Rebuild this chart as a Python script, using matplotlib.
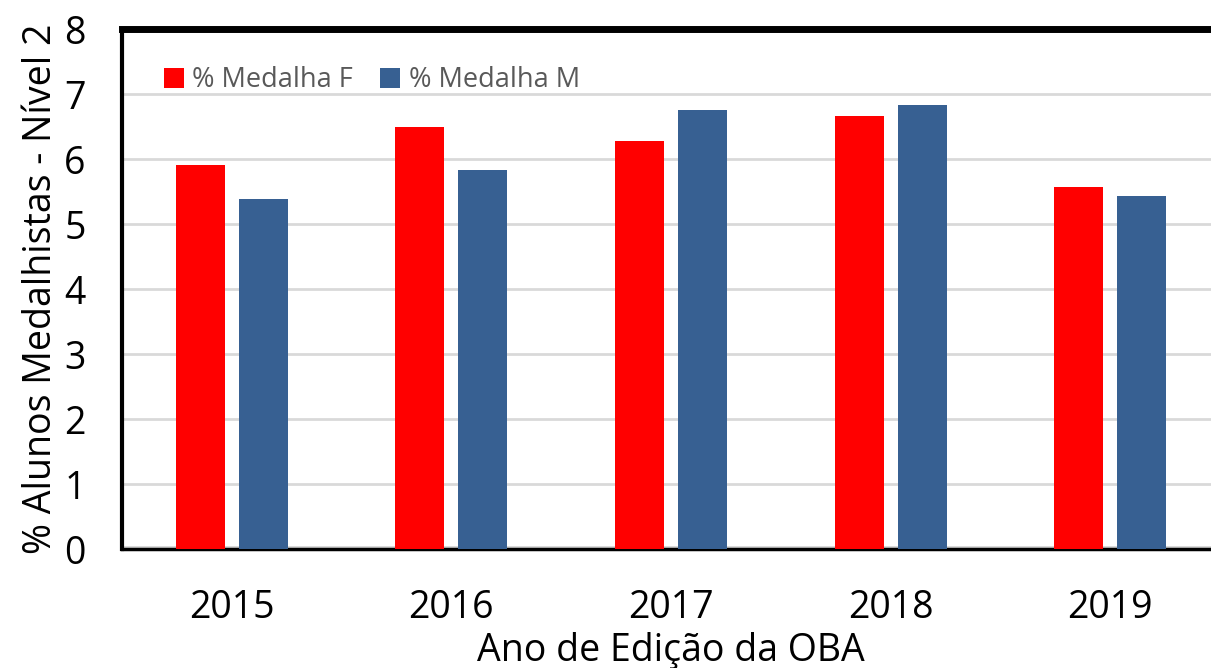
import numpy as np
import matplotlib.pyplot as plt

plt.rcParams['font.family'] = ['Open Sans', 'DejaVu Sans']

# dados
anos = ["2015", "2016", "2017", "2018", "2019"]
medalha_f = [5.91, 6.49, 6.28, 6.66, 5.57]
medalha_m = [5.38, 5.83, 6.75, 6.83, 5.43]

fig = plt.figure(figsize=(12.11, 6.68), dpi=100)
ax = fig.add_axes([0.1007, 0.178, 0.9067, 0.7784])

x = np.arange(len(anos))
w = 0.223
ax.bar(x - 0.1435, medalha_f, w, color="#ff0000", label="% Medalha F", zorder=3)
ax.bar(x + 0.1435, medalha_m, w, color="#376092", label="% Medalha M", zorder=3)

ax.set_xlim(-0.5, 4.5)
ax.set_ylim(0, 8)
ax.set_xticks(x)
ax.set_xticklabels(anos)
ax.set_yticks(range(0, 9))
ax.tick_params(axis='both', length=0, labelsize=27)
ax.tick_params(axis='x', pad=29)
ax.tick_params(axis='y', pad=26)

for yv in range(1, 8):
    ax.axhline(yv, color="#d9d9d9", lw=2, zorder=1)
ax.axhline(0, color="#d9d9d9", lw=5, zorder=1)

ax.spines['right'].set_visible(False)
ax.spines['top'].set_linewidth(5)
ax.spines['left'].set_linewidth(3)
ax.spines['bottom'].set_linewidth(2.5)

ax.set_ylabel("% Alunos Medalhistas - Nível 2", fontsize=27, labelpad=3)
ax.set_xlabel("Ano de Edição da OBA", fontsize=27, labelpad=3)

leg = ax.legend(loc='upper left', bbox_to_anchor=(0.016, 0.975), ncol=2, frameon=False,
                fontsize=19.5, handlelength=0.75, handleheight=0.75, handletextpad=0.3,
                columnspacing=1.0, labelcolor="#595959")

fig.savefig("out.png", dpi=100)
